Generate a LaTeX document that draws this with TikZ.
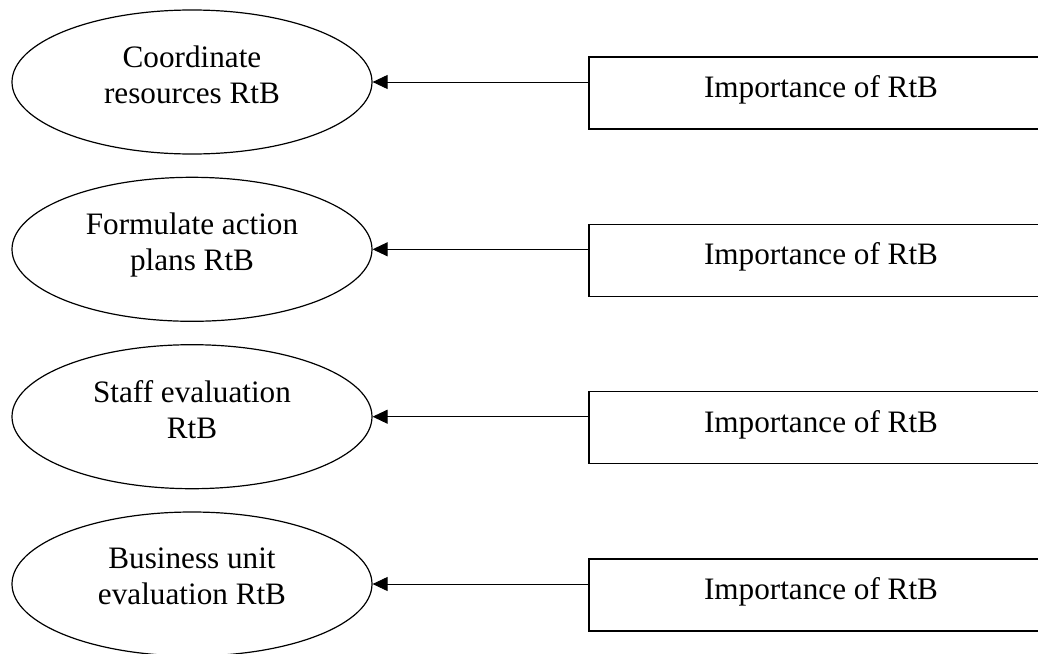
\documentclass[tikz,border=0pt]{standalone}
\usepackage{fontspec}
\setmainfont{Liberation Serif}
\usetikzlibrary{shapes.geometric,arrows.meta}
\begin{document}
\begin{tikzpicture}[x=1pt,y=-1pt,
  ovalnode/.style={draw,ellipse,line width=1.2pt,minimum width=360pt,minimum height=144pt,inner sep=0pt,align=center,text depth=15pt,font=\fontsize{31.2}{36}\selectfont},
  boxnode/.style={draw,rectangle,line width=1.4pt,minimum width=464pt,minimum height=72pt,inner sep=0pt,text depth=13pt,font=\fontsize{31.2}{36}\selectfont},
  arr/.style={line width=0.9pt,-{Triangle[length=15pt,width=14pt]}}]
\useasboundingbox (0,0) rectangle (1038,653);
\begin{scope}
\clip (0,0) rectangle (1038,653);
\node[ovalnode] (e1) at (192,82) {Coordinate\\resources RtB};
\node[ovalnode] (e2) at (192,249.3) {Formulate action\\plans RtB};
\node[ovalnode] (e3) at (192,416.7) {Staff evaluation\\RtB};
\node[ovalnode] (e4) at (192,584) {Business unit\\evaluation RtB};
\node[boxnode] (b1) at (821,93) {Importance of RtB};
\node[boxnode] (b2) at (821,260.3) {Importance of RtB};
\node[boxnode] (b3) at (821,427.7) {Importance of RtB};
\node[boxnode] (b4) at (821,595) {Importance of RtB};
\draw[arr] (b1.west |- e1.east) -- (e1.east);
\draw[arr] (b2.west |- e2.east) -- (e2.east);
\draw[arr] (b3.west |- e3.east) -- (e3.east);
\draw[arr] (b4.west |- e4.east) -- (e4.east);
\end{scope}
\end{tikzpicture}
\end{document}
